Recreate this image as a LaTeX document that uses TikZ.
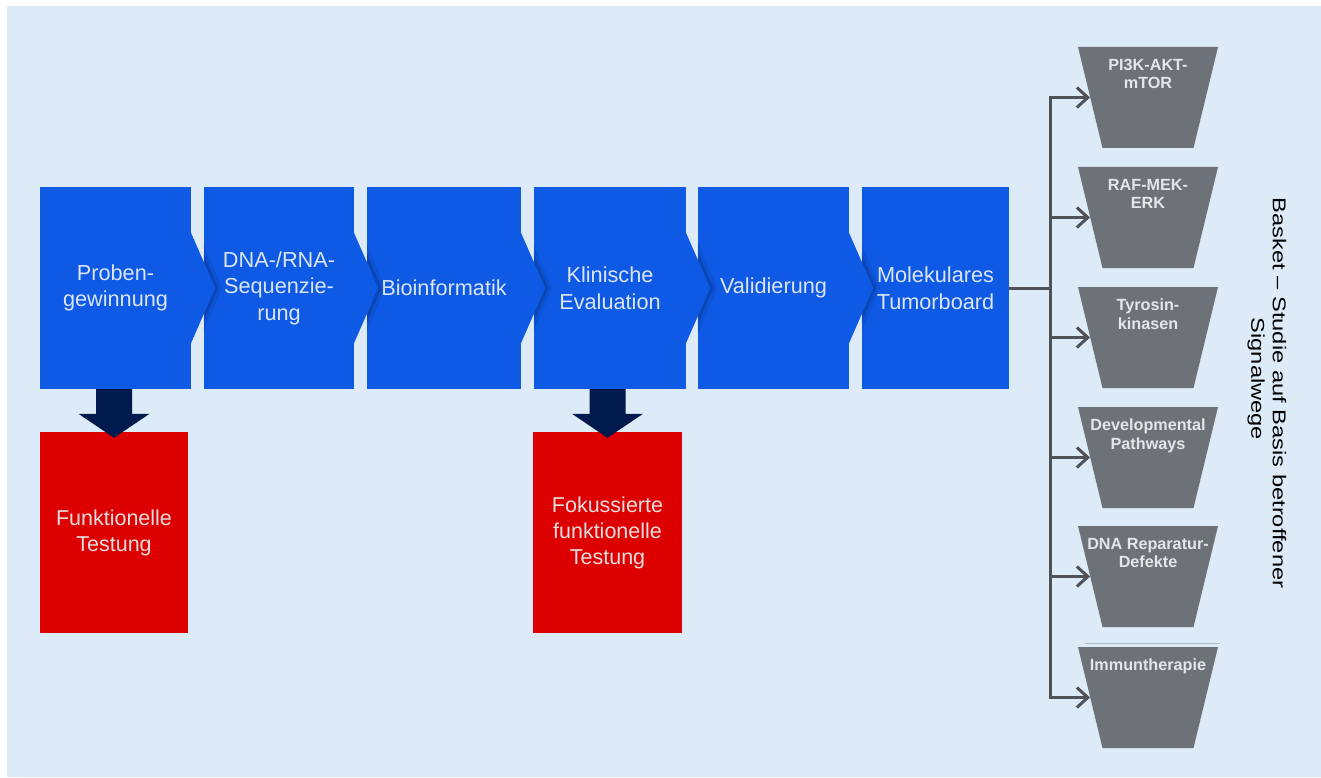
\documentclass[tikz,border=0pt]{standalone}
\usepackage{fontspec}
\setmainfont{Liberation Sans}
\usetikzlibrary{calc,arrows.meta}
\definecolor{bg}{HTML}{DDEAF7}
\definecolor{stepblue}{HTML}{0E5AE4}
\definecolor{steptext}{HTML}{DCE5F6}
\definecolor{testred}{HTML}{DC0000}
\definecolor{testtext}{HTML}{EBDCDE}
\definecolor{navyarrow}{HTML}{001A4E}
\definecolor{trapgray}{HTML}{6D7278}
\definecolor{traptext}{HTML}{E4E6E9}
\definecolor{connline}{HTML}{4F5257}
\definecolor{thinline}{HTML}{B4BAC2}
\begin{document}
\begin{tikzpicture}[x=1pt,y=-1pt,
  stepbox/.style={fill=stepblue, minimum height=202pt, inner sep=0pt, align=center,
    text=steptext, font=\fontsize{21.7}{26.5}\selectfont},
  testbox/.style={fill=testred, minimum height=201pt, inner sep=0pt, align=center,
    text=testtext, font=\fontsize{21.5}{26}\selectfont},
  trap/.style={minimum width=140pt, minimum height=101pt, inner sep=0pt,
    path picture={\fill[trapgray] (path picture bounding box.north west) -- (path picture bounding box.north east)
      -- ([xshift=-24.5pt]path picture bounding box.south east) -- ([xshift=24.5pt]path picture bounding box.south west) -- cycle;}},
  traplabel/.style={anchor=north, yshift=-12pt, align=center, inner sep=0pt,
    font=\bfseries\fontsize{16.2}{18.5}\selectfont, text=traptext},
  conn/.style={draw=connline, line width=3pt},
  downarrow/.style={fill=navyarrow}
]
\useasboundingbox (0,0) rectangle (1321,778);
\fill[white] (0,0) rectangle (1321,778);
\fill[bg] (7,6) rectangle (1321,777);

% process steps
\node[stepbox, minimum width=151pt] (b1) at (115.5,288) {Proben-\\gewinnung};
\node[stepbox, minimum width=150pt] (b2) at (279,288) {DNA-/RNA-\\Sequenzie-\\rung};
\node[stepbox, minimum width=154pt] (b3) at (444,288) {Bioinformatik};
\node[stepbox, minimum width=152pt] (b4) at (610,288) {Klinische\\Evaluation};
\node[stepbox, minimum width=151pt] (b5) at (773.5,288) {Validierung};
\node[stepbox, minimum width=147pt] (b6) at (935.5,288) {Molekulares\\Tumorboard};

% chevron tips with soft shadow on the following step
\foreach \b/\n in {b1/b2,b2/b3,b3/b4,b4/b5,b5/b6}{
  \begin{scope}
    \clip (\n.north west) rectangle (\n.south east);
    \draw[line width=9pt, black, opacity=0.08] ($(\b.east)+(2,-57)$) -- ($(\b.east)+(26,0)$) -- ($(\b.east)+(2,57)$);
    \draw[line width=4pt, black, opacity=0.14] ($(\b.east)+(1,-57)$) -- ($(\b.east)+(25,0)$) -- ($(\b.east)+(1,57)$);
  \end{scope}
  \fill[stepblue] ($(\b.east)+(-1,-57)$) -- ($(\b.east)+(24,0)$) -- ($(\b.east)+(-1,57)$) -- cycle;
}

% functional testing boxes
\node[testbox, minimum width=148pt] (r1) at (114,532.5) {Funktionelle\\Testung};
\node[testbox, minimum width=149pt] (r2) at (607.5,532.5) {Fokussierte\\funktionelle\\Testung};

% block arrows
\fill[downarrow] ($(b1.south)+(-1.5,0)+(-18,0)$) -- ($(b1.south)+(-1.5,0)+(18,0)$)
  -- ($(r1.north)+(18,-18)$) -- ($(r1.north)+(35.5,-18)$) -- ($(r1.north)+(0,6)$)
  -- ($(r1.north)+(-35.5,-18)$) -- ($(r1.north)+(-18,-18)$) -- cycle;
\fill[downarrow] ($(b4.south)+(-2.5,0)+(-18,0)$) -- ($(b4.south)+(-2.5,0)+(18,0)$)
  -- ($(r2.north)+(18,-18)$) -- ($(r2.north)+(35.5,-18)$) -- ($(r2.north)+(0,6)$)
  -- ($(r2.north)+(-35.5,-18)$) -- ($(r2.north)+(-18,-18)$) -- cycle;

% pathway baskets
\node[trap, label={[traplabel]north:{PI3K-AKT-\\mTOR}}] (t1) at (1148,97.5) {};
\node[trap, label={[traplabel]north:{RAF-MEK-\\ERK}}] (t2) at (1148,217.5) {};
\node[trap, label={[traplabel]north:{Tyrosin-\\kinasen}}] (t3) at (1148,337.5) {};
\node[trap, label={[traplabel]north:{Developmental\\Pathways}}] (t4) at (1148,457.5) {};
\node[trap, label={[traplabel]north:{DNA Reparatur-\\Defekte}}] (t5) at (1148,576.5) {};
\node[trap, label={[traplabel]north:{Immuntherapie}}] (t6) at (1148,697.5) {};
\draw[thinline, line width=0.8pt] ($(t6.north west)+(7,-3)$) -- ($(t6.north east)+(2,-3)$);

% connectors
\coordinate (trunk) at (1050,288);
\draw[conn] (b6.east) -- (trunk);
\foreach \t in {t1,t2,t3,t4,t5,t6}
  \draw[conn, -{Straight Barb[length=11pt,width=20pt]}] (trunk) |- ($(\t.west)+(12.25,0)$);

% side title
\node[font=\fontsize{18.5}{21.5}\selectfont, text=black, align=center, inner sep=0pt,
  rotate=-90, xscale=1.28] (basket) at (1267,393)
  {Basket – Studie auf Basis betroffener\\Signalwege\hspace*{22pt}};
\end{tikzpicture}
\end{document}
